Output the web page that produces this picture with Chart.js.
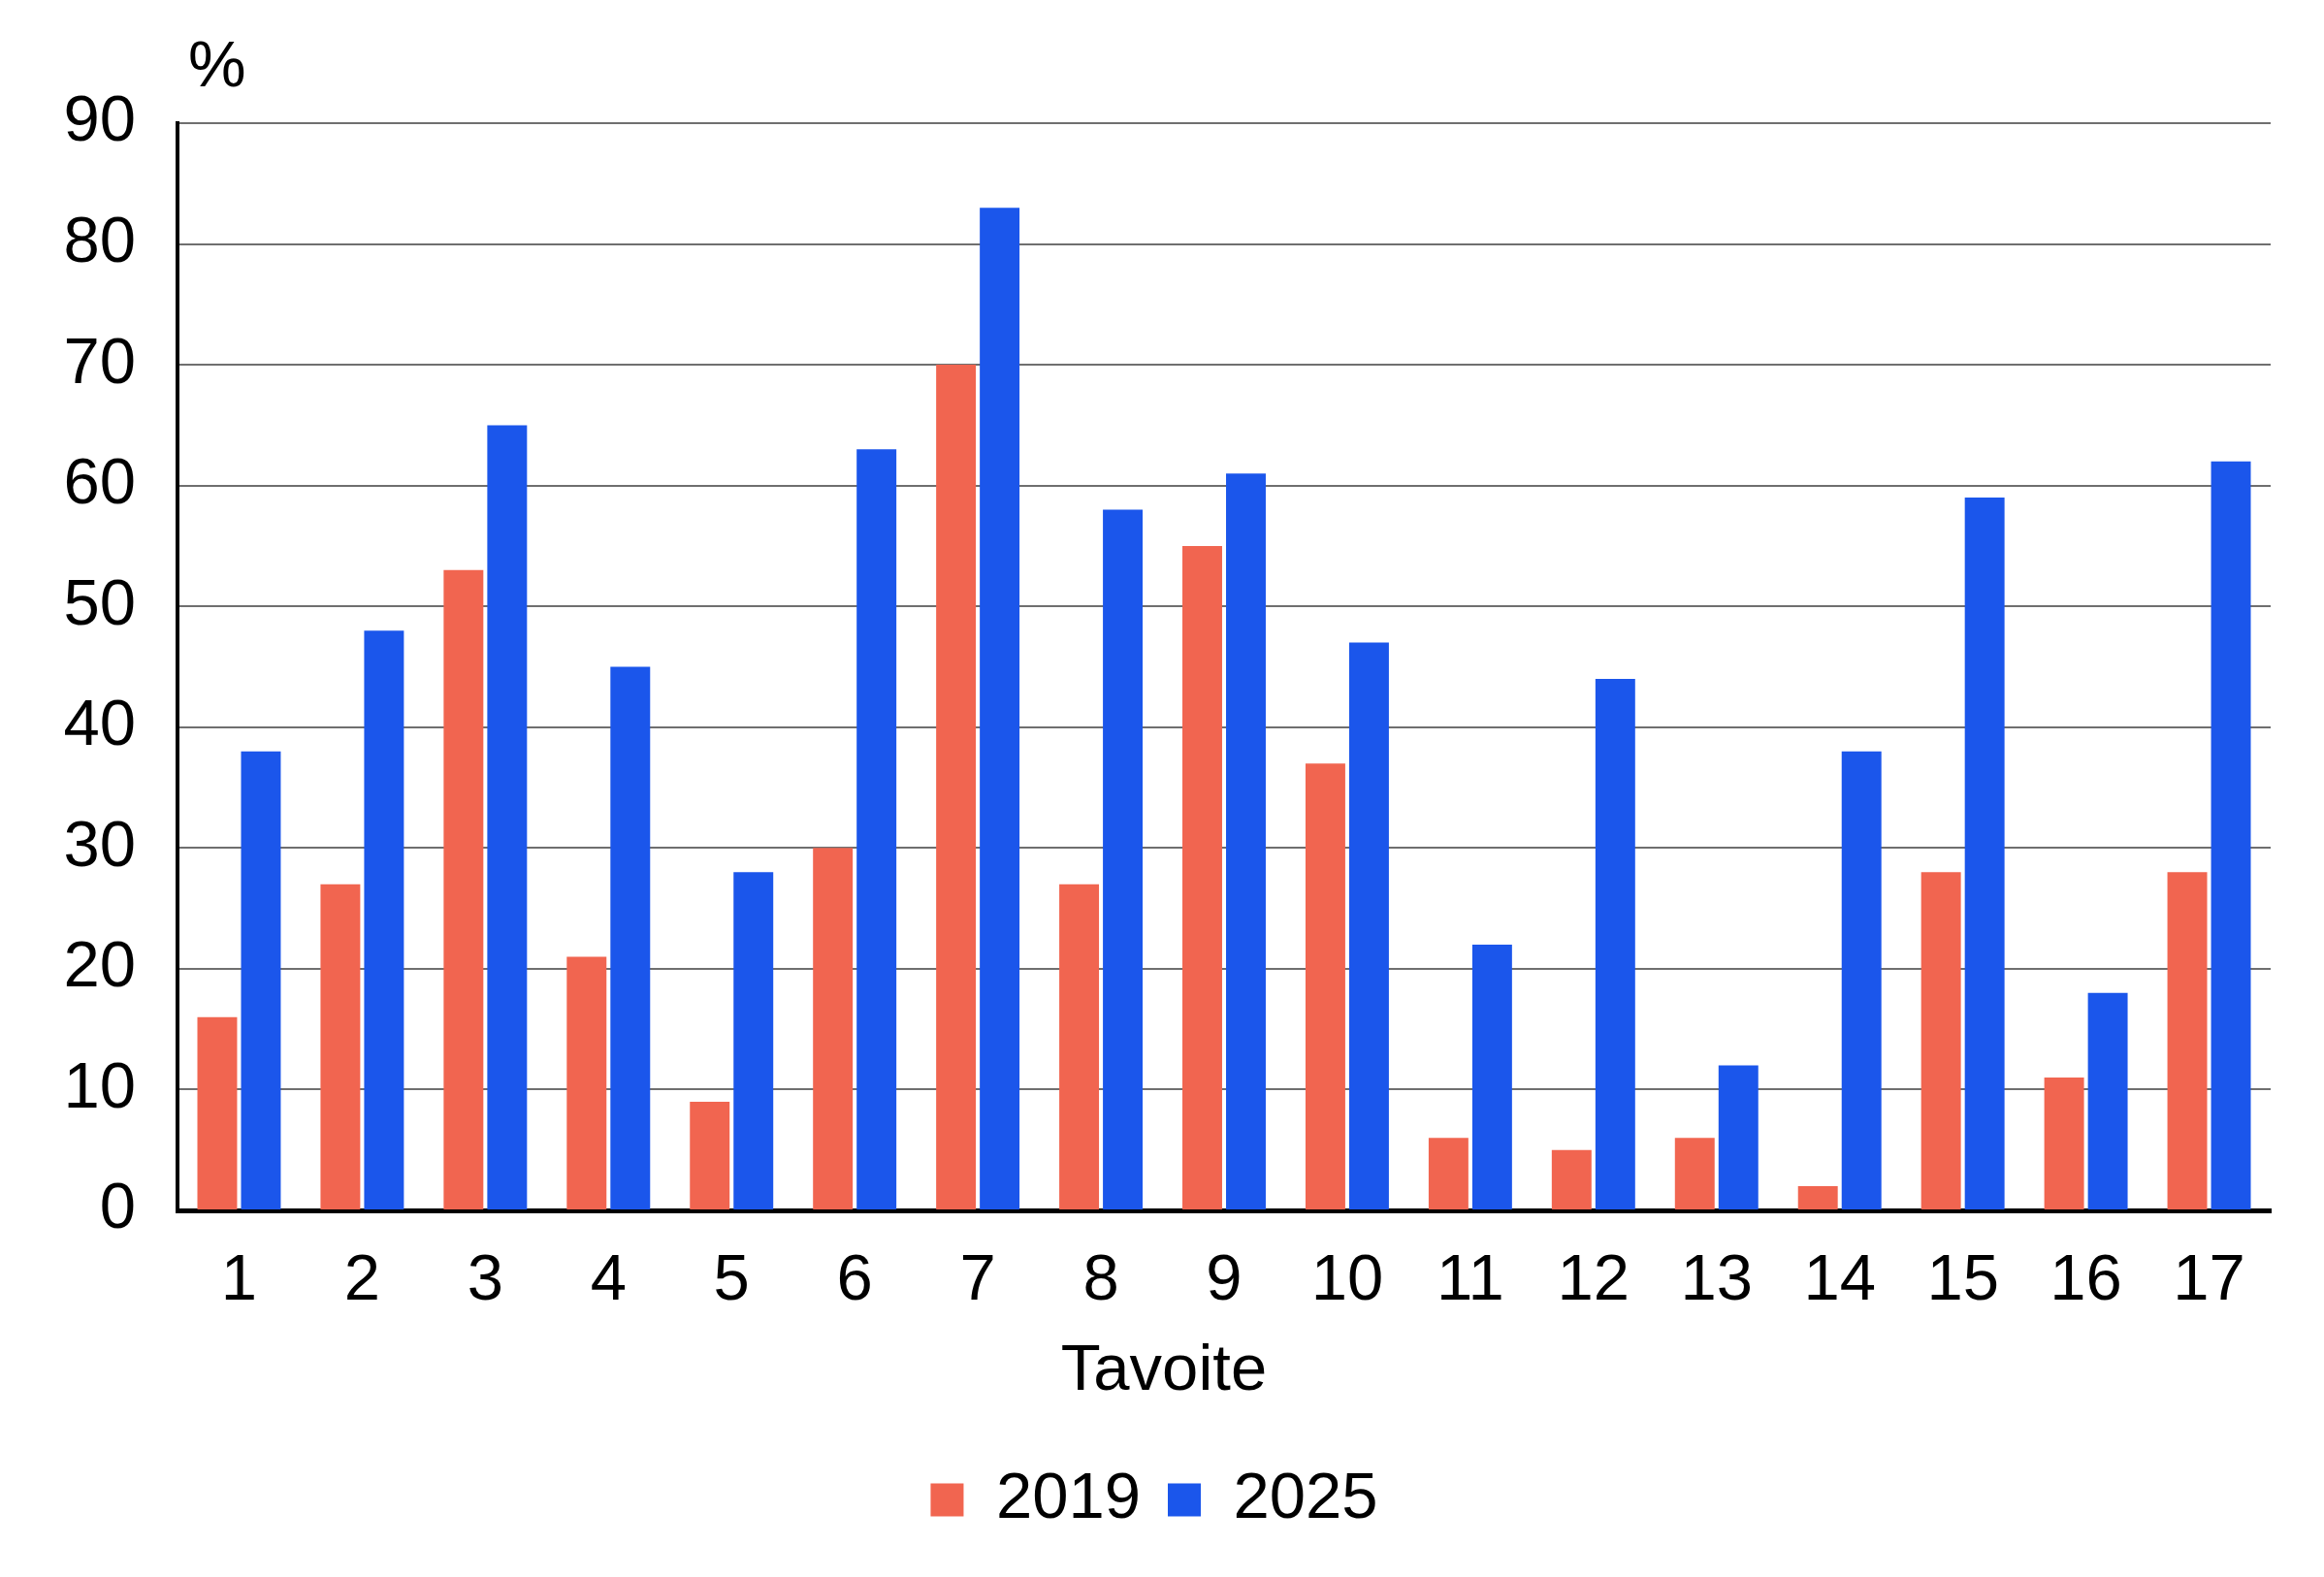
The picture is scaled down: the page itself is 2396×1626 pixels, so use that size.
<!DOCTYPE html>
<html>
<head>
<meta charset="utf-8">
<script src="https://cdn.jsdelivr.net/npm/chart.js@4/dist/chart.umd.min.js"></script>
<style>
  html, body { margin: 0; padding: 0; background: #fff; }
  #wrap { width: 2396px; height: 1626px; position: relative; }
</style>
</head>
<body>
<div id="wrap"><canvas id="chart"></canvas></div>
<script>
// goals 1..17
const categories = ["1","2","3","4","5","6","7","8","9","10","11","12","13","14","15","16","17"];
const values2019 = [16, 27, 53, 21, 9, 30, 70, 27, 55, 37, 6, 5, 6, 2, 28, 11, 28];
const values2025 = [38, 48, 65, 45, 28, 63, 83, 58, 61, 47, 22, 44, 12, 38, 59, 18, 62];
const seriesNames = ["2019", "2025"];
const yTicks = [0, 10, 20, 30, 40, 50, 60, 70, 80, 90];
const xTitle = "Tavoite";
const unit = "%";

const FONT = "'Liberation Sans', Arial, sans-serif";
const FS = 67;
Chart.defaults.font.family = FONT;
Chart.defaults.color = "#000";

// unit label above the y axis + x title centred on the page
const extraText = {
  id: "extraText",
  afterDraw(chart) {
    const { ctx, chartArea, width } = chart;
    ctx.save();
    ctx.font = FS + "px " + FONT;
    ctx.fillStyle = "#000";
    ctx.textBaseline = "alphabetic";
    ctx.textAlign = "left";
    ctx.fillText(unit, chartArea.left + 11, 89);
    ctx.textAlign = "center";
    ctx.fillText(xTitle, width / 2 + 2, 1433);
    ctx.restore();
  }
};

new Chart(document.getElementById("chart"), {
  type: "bar",
  data: {
    labels: categories,
    datasets: [
      {
        label: seriesNames[0],
        data: values2019,
        backgroundColor: "#F16550",
        categoryPercentage: 0.709,
        barPercentage: 0.91
      },
      {
        label: seriesNames[1],
        data: values2025,
        backgroundColor: "#1B56EB",
        categoryPercentage: 0.709,
        barPercentage: 0.91
      }
    ]
  },
  options: {
    responsive: true,
    maintainAspectRatio: false,
    animation: false,
    layout: { padding: { top: 127, right: 55, bottom: 36, left: 39 } },
    plugins: {
      legend: {
        position: "bottom",
        labels: {
          boxWidth: 34,
          boxHeight: 34,
          padding: 28,
          font: { size: FS },
          color: "#000"
        }
      },
      tooltip: { enabled: false }
    },
    scales: {
      x: {
        grid: { display: false, drawTicks: false },
        border: { color: "#000", width: 5 },
        ticks: { font: { size: FS }, color: "#000", padding: 33, maxRotation: 0 },
        afterFit(scale) { scale.height = 237; }
      },
      y: {
        min: 0,
        max: 90,
        afterBuildTicks(scale) { scale.ticks = yTicks.map(v => ({ value: v })); },
        grid: { color: "#6f6f6f", lineWidth: 2, drawTicks: false },
        border: { color: "#000", width: 4 },
        ticks: { font: { size: FS }, color: "#000", padding: 43 },
        afterFit(scale) { scale.width = 183 - 39; }
      }
    }
  },
  plugins: [extraText]
});
</script>
</body>
</html>
